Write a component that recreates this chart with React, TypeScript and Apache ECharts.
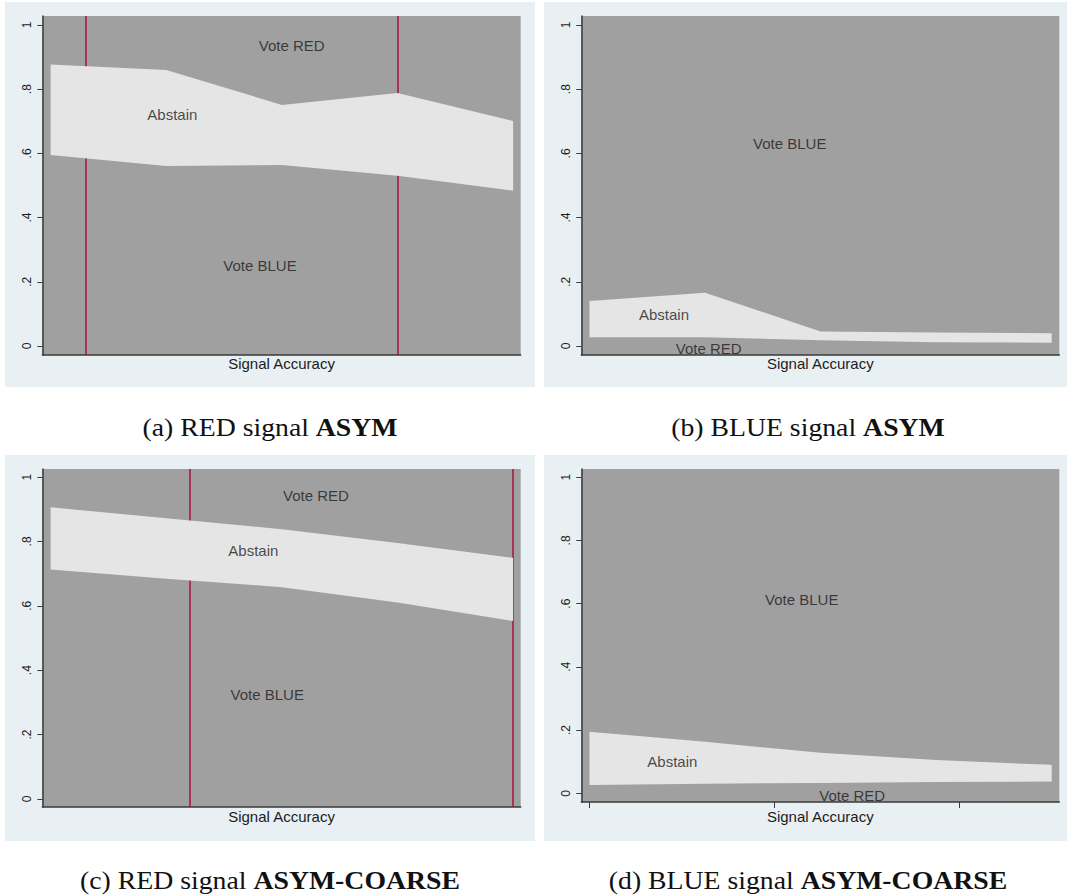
import React, { useEffect, useRef } from 'react';
import * as echarts from 'echarts';

// Signal accuracy grid (x values shared by all panels)
const accuracy = [0.5, 0.5625, 0.625, 0.6875, 0.75];

// (a) RED signal ASYM: lower = share voting BLUE, upper = BLUE + Abstain
const lowerA = [0.595, 0.561, 0.564, 0.53, 0.484];
const upperA = [0.877, 0.86, 0.751, 0.788, 0.701];
const linesA = [0.51875, 0.6875];

// (b) BLUE signal ASYM: lower = share voting RED, upper = RED + Abstain
const lowerB = [0.027, 0.027, 0.018, 0.012, 0.01];
const upperB = [0.14, 0.166, 0.045, 0.042, 0.04];
const linesB: number[] = [];

// (c) RED signal ASYM-COARSE
const lowerC = [0.713, 0.684, 0.658, 0.61, 0.553];
const upperC = [0.906, 0.872, 0.838, 0.795, 0.749];
const linesC = [0.575, 0.75];

// (d) BLUE signal ASYM-COARSE
const lowerD = [0.026, 0.03, 0.033, 0.036, 0.037];
const upperD = [0.195, 0.163, 0.128, 0.105, 0.09];
const linesD: number[] = [];

const yTicks = [0, 0.2, 0.4, 0.6, 0.8, 1];
const xTicksD = [0.5, 0.6, 0.7];

// text annotations (data coordinates)
const notesA = [
  { text: 'Vote RED', x: 0.6303, y: 0.935 },
  { text: 'Abstain', x: 0.5658, y: 0.722 },
  { text: 'Vote BLUE', x: 0.6132, y: 0.252 },
];
const notesB = [
  { text: 'Vote BLUE', x: 0.6083, y: 0.631 },
  { text: 'Abstain', x: 0.5403, y: 0.097 },
  { text: 'Vote RED', x: 0.5645, y: -0.007 },
];
const notesC = [
  { text: 'Vote RED', x: 0.6434, y: 0.942 },
  { text: 'Abstain', x: 0.6096, y: 0.771 },
  { text: 'Vote BLUE', x: 0.6171, y: 0.323 },
];
const notesD = [
  { text: 'Vote BLUE', x: 0.6148, y: 0.612 },
  { text: 'Abstain', x: 0.5448, y: 0.1 },
  { text: 'Vote RED', x: 0.6421, y: -0.008 },
];

const captionA = ['(a) RED signal ', 'ASYM'];
const captionB = ['(b) BLUE signal ', 'ASYM'];
const captionC = ['(c) RED signal ', 'ASYM-COARSE'];
const captionD = ['(d) BLUE signal ', 'ASYM-COARSE'];

const panels = [
  { lower: lowerA, upper: upperA, lines: linesA, notes: notesA, caption: captionA, xTicks: [] as number[],
    grid: { left: 42.4, top: 16, width: 478.3, height: 339 }, yMin: -0.028, yMax: 1.028, nameGap: 1,
    bg: [5, 2, 530, 385], cap: [270, 427] },
  { lower: lowerB, upper: upperB, lines: linesB, notes: notesB, caption: captionB, xTicks: [] as number[],
    grid: { left: 581.3, top: 16, width: 478, height: 339 }, yMin: -0.028, yMax: 1.028, nameGap: 1,
    bg: [544, 2, 523, 385], cap: [808, 427] },
  { lower: lowerC, upper: upperC, lines: linesC, notes: notesC, caption: captionC, xTicks: [] as number[],
    grid: { left: 42.4, top: 469, width: 478.3, height: 338 }, yMin: -0.025, yMax: 1.025, nameGap: 1.5,
    bg: [5, 455, 530, 386], cap: [270, 880] },
  { lower: lowerD, upper: upperD, lines: linesD, notes: notesD, caption: captionD, xTicks: xTicksD,
    grid: { left: 581.3, top: 469, width: 478, height: 333 }, yMin: -0.0275, yMax: 1.026, nameGap: 6.5,
    bg: [544, 455, 523, 386], cap: [808, 880] },
];

const X_MIN = 0.49557;
const X_MAX = 0.75411;
const AXIS_COLOR = '#3a3a3a';
const PLOT_BG = '#a0a0a0';
const BAND = '#e5e5e5';
const PANEL_BG = '#e9f0f3';
const RED_LINE = '#a61a40';
const TEXT = '#1c1c1c';
const SANS = 'Liberation Sans, Arial, sans-serif';
const SERIF = 'Liberation Serif, Times New Roman, serif';

function yFmt(v: number) {
  if (Math.abs(v) < 1e-9) return '0';
  if (Math.abs(v - 1) < 1e-9) return '1';
  return v.toFixed(1).replace(/^0/, '');
}

export default function App() {
  const ref = useRef<HTMLDivElement>(null);
  useEffect(() => {
    if (!ref.current) return;
    const chart = echarts.init(ref.current, null, { renderer: 'svg' });

    const grid = panels.map((p) => ({
      ...p.grid,
      show: true,
      backgroundColor: PLOT_BG,
      borderWidth: 0,
      containLabel: false,
    }));

    const xAxis = panels.map((p, i) => ({
      gridIndex: i,
      type: 'value',
      min: X_MIN,
      max: X_MAX,
      axisLine: { show: true, onZero: false, lineStyle: { color: AXIS_COLOR, width: 1.5 } },
      axisTick: {
        show: p.xTicks.length > 0,
        customValues: p.xTicks,
        length: 6,
        lineStyle: { color: AXIS_COLOR, width: 1 },
      },
      axisLabel: { show: false },
      splitLine: { show: false },
      name: 'Signal Accuracy',
      nameLocation: 'middle',
      nameGap: p.nameGap,
      nameTextStyle: { fontSize: 15, color: TEXT, fontFamily: SANS, verticalAlign: 'top' },
    }));

    const yAxis = panels.map((p, i) => ({
      gridIndex: i,
      type: 'value',
      min: p.yMin,
      max: p.yMax,
      axisLine: { show: true, onZero: false, lineStyle: { color: AXIS_COLOR, width: 1.5 } },
      axisTick: { show: true, length: 5, customValues: yTicks, lineStyle: { color: AXIS_COLOR, width: 1 } },
      axisLabel: {
        show: true,
        customValues: yTicks,
        rotate: 90,
        margin: 9,
        fontSize: 12,
        color: TEXT,
        fontFamily: SANS,
        formatter: yFmt,
      },
      splitLine: { show: false },
    }));

    const series: any[] = [];
    panels.forEach((p, i) => {
      // invisible carrier for the vertical reference lines (drawn beneath the band)
      series.push({
        type: 'line',
        xAxisIndex: i,
        yAxisIndex: i,
        data: accuracy.map((x, k) => [x, p.lower[k]]),
        symbol: 'none',
        lineStyle: { opacity: 0, width: 0 },
        z: 1,
        silent: true,
        markLine: {
          silent: true,
          z: 1,
          precision: 6,
          symbol: ['none', 'none'],
          label: { show: false },
          lineStyle: { color: RED_LINE, width: 1.6, type: 'solid' },
          emphasis: { disabled: true },
          data: p.lines.map((v) => ({ xAxis: v })),
        },
      });
      // Abstain band between lower and upper boundaries
      series.push({
        type: 'custom',
        xAxisIndex: i,
        yAxisIndex: i,
        z: 3,
        silent: true,
        data: accuracy.map((x, k) => [x, p.lower[k], p.upper[k]]),
        encode: { x: 0, y: [1, 2] },
        renderItem: (params: any, api: any) => {
          if (params.dataIndex !== 0) return null;
          const top = accuracy.map((x, k) => api.coord([x, p.upper[k]]));
          const bottom = accuracy.map((x, k) => api.coord([x, p.lower[k]])).reverse();
          return {
            type: 'polygon',
            shape: { points: top.concat(bottom) },
            style: { fill: BAND, stroke: null },
          };
        },
      });
      series.push({
        type: 'scatter',
        xAxisIndex: i,
        yAxisIndex: i,
        symbolSize: 0,
        silent: true,
        z: 5,
        data: p.notes.map((n) => ({ value: [n.x, n.y], name: n.text })),
        label: {
          show: true,
          position: 'inside',
          formatter: '{b}',
          fontSize: 15,
          color: TEXT,
          fontFamily: SANS,
        },
      });
    });

    const graphic: any[] = [];
    panels.forEach((p) => {
      graphic.push({
        type: 'rect',
        z: -100,
        silent: true,
        shape: { x: p.bg[0], y: p.bg[1], width: p.bg[2], height: p.bg[3] },
        style: { fill: PANEL_BG },
      });
      graphic.push({
        type: 'text',
        x: p.cap[0],
        y: p.cap[1],
        scaleX: 1.11,
        silent: true,
        style: {
          text: '{n|' + p.caption[0] + '}{b|' + p.caption[1] + '}',
          align: 'center',
          textAlign: 'center',
          verticalAlign: 'middle',
          textVerticalAlign: 'middle',
          rich: {
            n: { fontFamily: SERIF, fontSize: 25, fill: '#111', color: '#111' },
            b: { fontFamily: SERIF, fontSize: 25, fontWeight: 'bold', fill: '#111', color: '#111' },
          },
        },
      });
    });

    chart.setOption({
      animation: false,
      backgroundColor: '#ffffff',
      grid,
      xAxis,
      yAxis,
      series,
      graphic,
    });

    return () => chart.dispose();
  }, []);

  return (
    <div
      ref={ref}
      style={{ position: 'absolute', left: 0, top: 0, width: 1067, height: 895 }}
    />
  );
}
